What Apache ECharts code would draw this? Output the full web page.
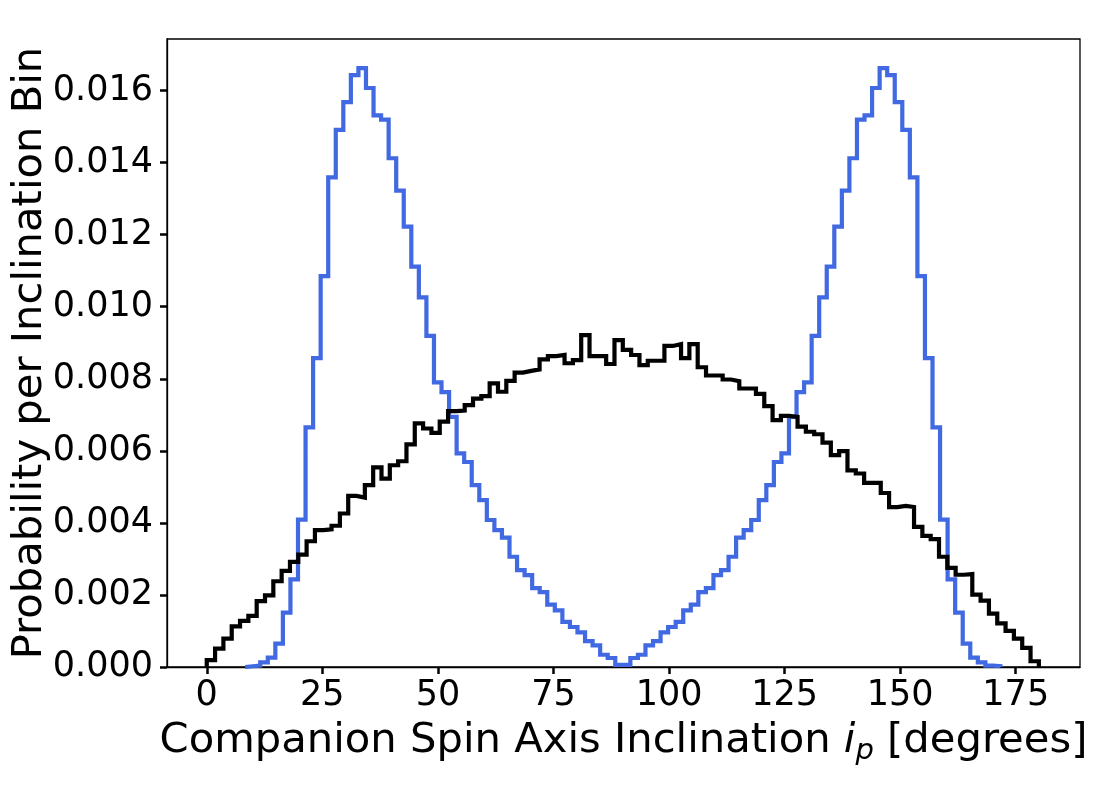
<!DOCTYPE html>
<html>
<head>
<meta charset="utf-8">
<script src="https://cdn.jsdelivr.net/npm/echarts@6/dist/echarts.min.js"></script>
<style>
html,body{margin:0;padding:0;background:#fff;}
#chart{width:1114px;height:787px;}
</style>
</head>
<body>
<div id="chart"></div>
<script>
// Bin ranges (degrees) and number of bins
const blackRange = [0, 180];
const blueRange = [8.3, 171.7];

// Black histogram: probability per bin (100 bins over 0-180 deg)
const blackValues = [
  0.00019, 0.00051, 0.00079, 0.00113, 0.00128, 0.00142, 0.00183, 0.00199, 0.00238, 0.00267,
  0.00292, 0.00312, 0.00349, 0.00380, 0.00382, 0.00392, 0.00426, 0.00475, 0.00470, 0.00505,
  0.00554, 0.00523, 0.00560, 0.00571, 0.00618, 0.00676, 0.00662, 0.00650, 0.00681, 0.00710,
  0.00712, 0.00727, 0.00745, 0.00752, 0.00787, 0.00764, 0.00794, 0.00817, 0.00822, 0.00826,
  0.00854, 0.00863, 0.00866, 0.00843, 0.00852, 0.00921, 0.00863, 0.00863, 0.00841, 0.00907,
  0.00880, 0.00866, 0.00838, 0.00850, 0.00850, 0.00891, 0.00896, 0.00857, 0.00896, 0.00832,
  0.00809, 0.00809, 0.00798, 0.00793, 0.00773, 0.00773, 0.00758, 0.00724, 0.00685, 0.00697,
  0.00694, 0.00667, 0.00653, 0.00646, 0.00623, 0.00588, 0.00599, 0.00546, 0.00537, 0.00511,
  0.00511, 0.00483, 0.00444, 0.00447, 0.00444, 0.00389, 0.00364, 0.00355, 0.00306, 0.00275,
  0.00256, 0.00258, 0.00201, 0.00184, 0.00148, 0.00121, 0.00100, 0.00079, 0.00053, 0.00016
];

// Blue histogram: probability per bin (100 bins over its own data range)
const blueValues = [
  0.00002, 0.00004, 0.00013, 0.00026, 0.00065, 0.00151, 0.00243, 0.00409, 0.00665, 0.00857,
  0.01085, 0.01359, 0.01491, 0.01568, 0.01643, 0.01662, 0.01607, 0.01531, 0.01519, 0.01412,
  0.01322, 0.01222, 0.01111, 0.01026, 0.00919, 0.00790, 0.00763, 0.00694, 0.00593, 0.00569,
  0.00505, 0.00463, 0.00408, 0.00380, 0.00359, 0.00306, 0.00269, 0.00255, 0.00219, 0.00208,
  0.00173, 0.00157, 0.00125, 0.00111, 0.00096, 0.00072, 0.00060, 0.00034, 0.00025, 0.00006,
  0.00006, 0.00025, 0.00034, 0.00060, 0.00072, 0.00096, 0.00111, 0.00125, 0.00157, 0.00173,
  0.00208, 0.00219, 0.00255, 0.00269, 0.00306, 0.00359, 0.00380, 0.00408, 0.00463, 0.00505,
  0.00569, 0.00593, 0.00694, 0.00763, 0.00790, 0.00919, 0.01026, 0.01111, 0.01222, 0.01322,
  0.01412, 0.01519, 0.01531, 0.01607, 0.01662, 0.01643, 0.01568, 0.01491, 0.01359, 0.01085,
  0.00857, 0.00665, 0.00409, 0.00243, 0.00151, 0.00065, 0.00026, 0.00013, 0.00004, 0.00002
];

// Tick labels
const xTicks = [0, 25, 50, 75, 100, 125, 150, 175];
const yTicks = [0, 0.002, 0.004, 0.006, 0.008, 0.010, 0.012, 0.014, 0.016];

function stepOutline(range, values) {
  const w = (range[1] - range[0]) / values.length;
  const pts = [[range[0], 0]];
  values.forEach(function (v, i) {
    const a = range[0] + i * w;
    const b = range[0] + (i + 1) * w;
    pts.push([a, v], [b, v]);
  });
  pts.push([range[1], 0]);
  return pts;
}

const FONT = 'DejaVu Sans';
const chart = echarts.init(document.getElementById('chart'), null, {renderer: 'canvas'});

chart.setOption({
  animation: false,
  backgroundColor: '#fff',
  grid: {
    left: 167, right: 34, top: 39, bottom: 120,
    containLabel: false,
    outerBoundsMode: 'none',
    show: true, borderColor: '#000', borderWidth: 1.3, backgroundColor: 'transparent'
  },
  xAxis: {
    type: 'value',
    min: -8.6, max: 188.9,
    axisLine: {show: true, onZero: false, lineStyle: {color: '#000', width: 1.3}},
    axisTick: {show: true, customValues: xTicks, length: 7, inside: false, lineStyle: {color: '#000', width: 2.5}},
    axisLabel: {show: true, customValues: xTicks, color: '#000', fontFamily: FONT, fontSize: 35, margin: 11,
      formatter: function (v) { return String(v); }},
    splitLine: {show: false},
    name: '{t|Companion Spin Axis Inclination }{i|i}{s|p}{t| [degrees]}',
    nameLocation: 'middle',
    nameGap: 49,
    nameMoveOverlap: false,
    nameTextStyle: {
      color: '#000', fontFamily: FONT, fontSize: 42,
      rich: {
        t: {fontFamily: FONT, fontSize: 41.7, lineHeight: 50, color: '#000'},
        i: {fontFamily: FONT, fontSize: 41.7, fontStyle: 'italic', lineHeight: 50, color: '#000'},
        s: {fontFamily: FONT, fontSize: 29, fontStyle: 'italic', lineHeight: 33, verticalAlign: 'bottom', color: '#000'}
      }
    }
  },
  yAxis: {
    type: 'value',
    min: 0, max: 0.01743,
    axisLine: {show: true, onZero: false, lineStyle: {color: '#000', width: 1.3}},
    axisTick: {show: true, customValues: yTicks, length: 7, inside: false, lineStyle: {color: '#000', width: 2.5}},
    axisLabel: {show: true, customValues: yTicks, color: '#000', fontFamily: FONT, fontSize: 35, margin: 14,
      formatter: function (v) { return v.toFixed(3); }},
    splitLine: {show: false},
    name: 'Probability per Inclination Bin',
    nameLocation: 'middle',
    nameGap: 116,
    nameMoveOverlap: false,
    nameTextStyle: {color: '#000', fontFamily: FONT, fontSize: 41.7}
  },
  series: [
    {
      type: 'line',
      data: stepOutline(blueRange, blueValues),
      showSymbol: false,
      symbol: 'none',
      clip: true,
      z: 2,
      lineStyle: {color: '#4169E1', width: 4.2, join: 'miter', cap: 'butt'}
    },
    {
      type: 'line',
      data: stepOutline(blackRange, blackValues),
      showSymbol: false,
      symbol: 'none',
      clip: true,
      z: 3,
      lineStyle: {color: '#000000', width: 4.2, join: 'miter', cap: 'butt'}
    }
  ]
});
</script>
</body>
</html>
